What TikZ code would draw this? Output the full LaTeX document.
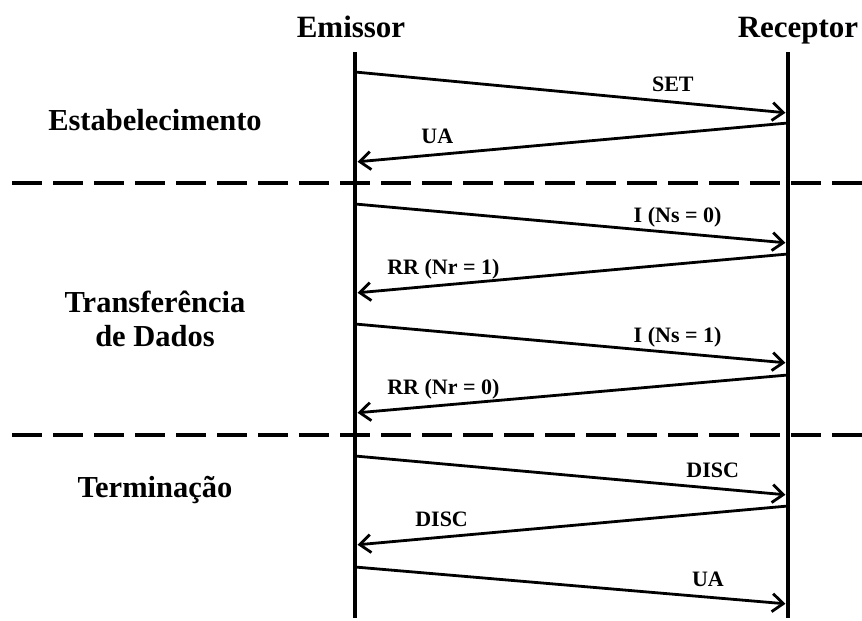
\documentclass[tikz,border=0pt]{standalone}
\usepackage{fontspec}
\setmainfont{Liberation Serif}
\usetikzlibrary{arrows.meta}

\begin{document}
\begin{tikzpicture}[x=1pt, y=-1pt,
	title/.style={font=\fontsize{31}{34}\selectfont\bfseries, anchor=base},
	phase/.style={font=\fontsize{30.5}{34}\selectfont\bfseries, align=center},
	lifeline/.style={line width=4.5pt},
	msg/.style={line width=2.8pt, -{Straight Barb[length=11pt, width=18pt, line width=2.8pt]}, shorten >=2.5pt},
	msglabel/.style={font=\fontsize{22}{24}\selectfont\bfseries, anchor=base, inner sep=0pt, yshift=11pt},
	separator/.style={line width=4pt, dash pattern=on 30pt off 11pt}]
		\useasboundingbox (0,0) rectangle (862,621);
		\node[title] (emissor) at (351,37) {Emissor};
		\node[title] (receptor) at (798,37) {Receptor};
		\coordinate (eTop) at (355,52);
		\coordinate (eBot) at (355,618);
		\coordinate (rTop) at (788,52);
		\coordinate (rBot) at (788,618);
		\draw[lifeline] (eTop) -- (eBot);
		\draw[lifeline] (rTop) -- (rBot);
		\foreach \i/\y in {1/183, 2/435}
		{
			\coordinate (sep\i L) at (12,\y);
			\coordinate (sep\i R) at (862,\y);
			\draw[separator] (sep\i L) -- (sep\i R);
		}
		\node[phase] (estab) at (155,120) {Estabelecimento};
		\node[phase] (transf) at (155,319) {Transferência\\de Dados};
		\node[phase] (term) at (155,490) {Terminação};
		\foreach \i/\xa/\ya/\xb/\yb/\p/\txt in {
			1/355/72/788/113/0.734/{SET},
			2/788/123/355/162/0.81/{UA},
			3/355/204/788/243/0.745/{I (Ns = 0)},
			4/788/254/355/293/0.796/{RR (Nr = 1)},
			5/355/324/788/363/0.745/{I (Ns = 1)},
			6/788/375/355/413/0.796/{RR (Nr = 0)},
			7/355/456/788/495/0.826/{DISC},
			8/788/506/355/545/0.80/{DISC},
			9/355/567/788/604/0.815/{UA}}
		{
			\coordinate (m\i a) at (\xa,\ya);
			\coordinate (m\i b) at (\xb,\yb);
			\draw[msg] (m\i a) -- node[msglabel, pos=\p] {\txt} (m\i b);
		}
	\end{tikzpicture}
\end{document}
